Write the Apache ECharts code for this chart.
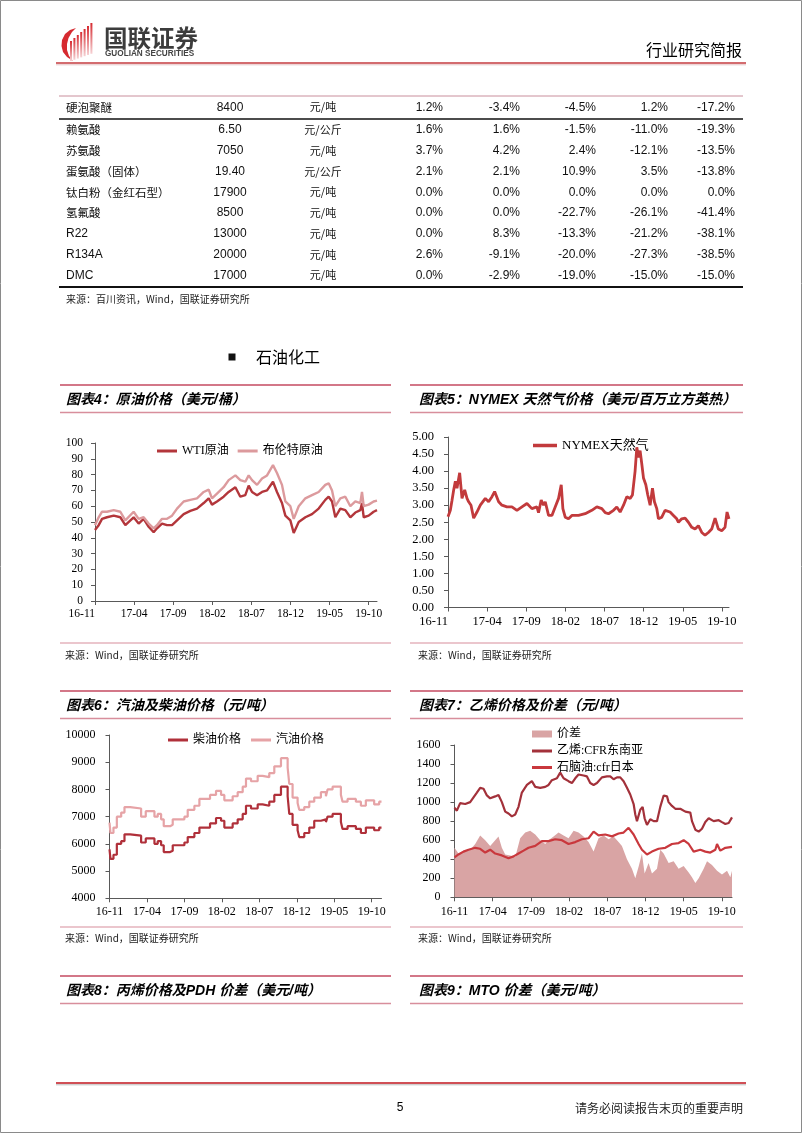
<!DOCTYPE html>
<html><head><meta charset="utf-8">
<script src="https://cdn.jsdelivr.net/npm/echarts@6/dist/echarts.min.js"></script>
<style>html,body{margin:0;padding:0;background:#fff}#c{width:802px;height:1133px}</style>
</head><body><div id="c"></div><script>
// ---------------- DATA ----------------
const xTickLabels = ['16-11','17-04','17-09','18-02','18-07','18-12','19-05','19-10'];

// table
const tableNames = ['硬泡聚醚','赖氨酸','苏氨酸','蛋氨酸（固体）','钛白粉（金红石型）','氢氟酸','R22','R134A','DMC'];
const tablePrices = ['8400','6.50','7050','19.40','17900','8500','13000','20000','17000'];
const tableUnits = ['元/吨','元/公斤','元/吨','元/公斤','元/吨','元/吨','元/吨','元/吨','元/吨'];
const chg1 = ['1.2%','1.6%','3.7%','2.1%','0.0%','0.0%','0.0%','2.6%','0.0%'];
const chg2 = ['-3.4%','1.6%','4.2%','2.1%','0.0%','0.0%','8.3%','-9.1%','-2.9%'];
const chg3 = ['-4.5%','-1.5%','2.4%','10.9%','0.0%','-22.7%','-13.3%','-20.0%','-19.0%'];
const chg4 = ['1.2%','-11.0%','-12.1%','3.5%','0.0%','-26.1%','-21.2%','-27.3%','-15.0%'];
const chg5 = ['-17.2%','-19.3%','-13.5%','-13.8%','0.0%','-41.4%','-38.1%','-38.5%','-15.0%'];

// chart 4: crude oil (months since 2016-11)
const oilMonths = [0,0.47,0.9,1.53,2.39,3.24,3.88,4.94,5.58,6.22,6.86,7.5,7.93,8.57,9.21,9.85,10.49,11.34,12.19,13.04,13.9,14.54,14.96,15.6,16.45,17.09,17.95,18.58,19.22,19.65,20.08,20.72,21.36,22.0,22.76,23.27,23.91,24.34,24.98,25.41,26.05,26.9,27.75,28.6,29.45,29.88,30.31,30.73,31.37,32.01,32.65,33.29,33.93,34.14,34.36,34.99,35.63,36.06];
const wti = [45,48,52,53,54,53,48,53,49,52,47,43.5,46,49,48,48,51,55,57,58.5,62,65,61,63,66,69,72,66,67,73,69,67,69,70,75.5,69,62,54,51,43,50,53,55,58.5,64,66,63,53,58.5,57.5,53,56,57.5,62,53,54,56.5,57.5];
const brent = [48,53,56.5,56.5,57.5,56.5,51,56.5,52,53,49,46,48,52,52,54,58.5,63,64,65,69,70.5,65,68,72,76.5,79.5,76.5,75.5,79.5,76.5,73.5,77.5,79.5,86,81,73.5,63,60,52,60,65,67,69,73.5,74.5,70,60,65,66,60,63,62,69,60,61,63,63.5];

// chart 5: NYMEX natural gas
const gasMonths = [0,0.3,0.51,0.72,0.94,1.15,1.49,1.79,2.13,2.43,2.64,2.94,3.28,3.7,4.13,4.77,5.19,5.62,5.96,6.47,6.89,7.53,8.17,8.81,9.45,10.09,10.72,11.36,11.57,11.91,12.21,12.43,12.85,13.28,13.7,14.13,14.47,14.68,14.98,15.4,15.83,16.68,17.53,18.38,19.02,19.66,20.09,20.51,21.15,21.57,22.0,22.43,22.85,23.28,23.57,23.91,24.13,24.34,24.55,24.77,24.98,25.28,25.53,25.83,26.13,26.38,26.68,26.89,27.32,27.74,28.38,28.81,29.23,29.45,29.87,30.3,30.72,31.15,31.57,32.0,32.43,32.85,33.28,33.7,34.13,34.55,34.98,35.4,35.66,35.91];
const natGas = [2.66,2.85,3.14,3.44,3.7,3.5,3.95,3.2,3.45,3.2,3.1,3.0,2.62,2.8,3.0,3.2,3.1,3.25,3.4,3.1,3.0,2.95,2.95,2.85,2.95,3.05,2.9,2.95,2.78,3.15,3.0,3.1,2.7,2.7,2.95,3.2,3.6,2.9,2.65,2.6,2.7,2.7,2.75,2.85,2.95,2.9,2.78,2.75,2.85,2.95,2.8,3.0,3.25,3.2,3.3,4.0,4.7,4.4,4.6,4.2,3.8,3.6,3.3,3.0,3.5,3.1,2.9,2.6,2.65,2.85,2.8,2.7,2.6,2.5,2.6,2.62,2.5,2.35,2.3,2.4,2.2,2.12,2.2,2.3,2.62,2.3,2.25,2.35,2.8,2.6];

// chart 6: diesel / gasoline (price adjustment dates, months since 2016-11)
const fuelMonths = [0,0.13,0.53,0.98,1.56,2.0,2.76,4.22,4.84,6.0,6.44,6.89,7.24,8.09,8.44,10.0,10.44,11.33,12.0,13.42,14.22,14.89,15.33,16.44,17.11,17.78,18.22,18.89,19.78,20.44,21.33,22.0,22.89,23.78,24.0,24.44,25.11,25.33,26.0,26.67,27.33,28.22,28.89,29.11,29.78,30.89,31.11,31.78,32.89,33.56,34.22,35.33,36.0,36.31];
const diesel = [5800,5450,5600,6000,6100,6350,6300,6050,6200,6000,6100,5950,5700,5750,5950,6050,6250,6400,6600,6750,6950,6850,6600,6750,6900,7100,7400,7300,7450,7400,7550,7800,8100,7750,7100,6700,6500,6250,6400,6600,6850,6900,6800,7000,7100,6800,6550,6650,6550,6400,6600,6500,6600,6600];
const gasoline = [6780,6400,6600,7000,7150,7350,7300,7000,7200,7000,7100,6900,6650,6700,6900,7000,7250,7400,7650,7800,7950,7800,7600,7750,7900,8100,8400,8300,8500,8450,8600,8850,9150,8800,8200,7700,7500,7250,7350,7550,7700,7900,7750,8000,8100,7800,7550,7650,7550,7400,7600,7450,7550,7550];

// chart 7: ethylene / naphtha / spread
const ethMonths = [0,0.31,0.74,1.4,2.05,2.49,2.93,3.36,3.8,4.24,4.67,5.33,5.76,6.2,6.64,7.07,7.51,7.95,8.38,8.82,9.48,10.13,10.57,11.22,11.88,12.31,12.75,13.41,13.84,14.28,14.93,15.37,15.81,16.24,16.9,17.34,17.77,18.21,18.65,19.3,19.96,20.39,20.83,21.27,21.7,22.14,22.58,23.01,23.45,23.67,23.89,24.32,24.63,24.89,25.2,25.63,26.07,26.51,26.94,27.38,27.82,28.03,28.47,28.91,29.56,30.22,30.87,31.09,31.53,31.97,32.4,32.84,33.28,33.93,34.59,35.02,35.46,35.9,36.33];
const ethylene = [940,910,990,980,1000,1050,1100,1150,1140,1070,1040,1060,1075,1000,900,880,850,870,950,1100,1180,1220,1160,1150,1160,1180,1230,1250,1310,1250,1220,1200,1250,1290,1280,1270,1200,1180,1200,1260,1270,1270,1240,1260,1260,1220,1150,1080,980,870,800,920,950,830,760,820,800,800,950,1070,1060,1000,960,930,930,900,890,800,710,690,720,790,830,800,810,790,770,780,840];
const napMonths = [0,0.52,1.18,1.83,2.71,3.36,4.02,4.67,5.33,6.2,7.07,7.73,8.38,9.04,9.69,10.57,11.44,12.31,13.19,14.06,14.93,15.81,16.68,17.55,18.21,18.86,19.74,20.61,21.48,22.14,22.79,23.45,24.1,24.54,25.2,25.85,26.72,27.6,28.47,29.34,30.0,30.66,31.31,32.18,32.84,33.49,34.15,34.37,34.8,35.46,36.33];
const naphtha = [420,450,480,500,520,510,470,500,460,440,410,430,460,490,520,540,590,590,610,600,560,580,610,620,690,650,660,640,670,680,730,660,560,500,450,480,510,520,560,570,600,560,480,500,480,470,500,560,490,520,530];
const sprMonths = [0,0.52,1.18,2.05,2.71,3.36,4.02,4.67,5.33,5.76,6.2,6.64,7.29,7.95,8.6,9.26,9.91,10.57,11.22,11.88,12.31,12.97,13.62,14.28,14.93,15.59,16.24,16.9,17.55,18.21,18.86,19.52,20.17,20.83,21.48,21.92,22.58,23.23,23.67,24.1,24.54,24.89,25.41,25.85,26.51,26.94,27.38,28.03,28.69,29.34,30.0,30.66,31.09,31.53,31.97,32.62,33.06,33.71,34.37,35.02,35.68,36.11,36.33];
const spread = [520,460,490,500,560,650,600,540,600,640,520,450,440,420,620,680,700,660,600,560,600,640,680,650,620,700,680,640,580,480,620,650,610,640,580,540,400,300,200,320,460,250,360,250,300,500,460,360,380,300,330,260,210,150,200,300,380,340,280,240,280,210,280];

// ---------------- STYLE ----------------
const CJK = "'Noto Sans CJK SC'";
const SANS = "'Liberation Sans', Arial, 'Noto Sans CJK SC'";
const SERIF = "'Liberation Serif', 'Times New Roman', 'Noto Sans CJK SC'";
const AX = '#595959';

const G = [];
function txt(x, y, s, font, opt) {
  G.push({type:'text', x:x, y:y, silent:true, z:10,
    style:Object.assign({text:s, font:font, fill:'#000', textAlign:'left', textVerticalAlign:'middle'}, opt || {})});
}
function hline(x1, x2, y, color, w) {
  G.push({type:'line', silent:true, z:5, shape:{x1:x1, y1:y, x2:x2, y2:y}, style:{stroke:color, lineWidth:w}});
}

// page frame
G.push({type:'rect', silent:true, shape:{x:0.5, y:0.5, width:801, height:1132}, style:{fill:'none', stroke:'#8a8a8a', lineWidth:1}});

// logo
G.push({type:'polygon', silent:true,
  shape:{points:[[76,28],[70,30],[65,34],[62,40],[61.5,46],[63,52],[67,57],[73,61],[69,56],[67,50],[67,44],[68.5,38],[72,32]]},
  style:{fill:'#D62A30'}});
for (let i = 0; i < 7; i++) {
  G.push({type:'rect', silent:true, shape:{x:70 + i * 3.4, y:41 - i * 3.0, width:2, height:20 + i * 1.8},
    style:{fill:{type:'linear', x:0, y:0, x2:0, y2:1, colorStops:[{offset:0, color:'#D62A30'}, {offset:1, color:'#F6D2D4'}]}}});
}
txt(104, 38.5, '国联证券', 'bold 23.5px ' + CJK, {fill:'#3c3c3c'});
txt(105, 53.5, 'GUOLIAN SECURITIES', 'bold 8.2px ' + SANS, {fill:'#444'});
txt(742, 50, '行业研究简报', '16px ' + CJK, {textAlign:'right'});
hline(56, 746, 63, '#C43B3F', 1.5);
hline(56, 746, 64.8, '#E6C4C6', 1);

// table
hline(59, 743, 96, '#C98E9C', 1);
hline(59, 743, 119, '#111', 1.5);
hline(59, 743, 287, '#111', 2);
const chgCols = [chg1, chg2, chg3, chg4, chg5];
const chgRight = [443, 520, 596, 668, 735];
for (let i = 0; i < tableNames.length; i++) {
  const y = i === 0 ? 107.3 : 130 + (i - 1) * 20.75;
  const isLatin = /^[A-Z0-9]/.test(tableNames[i]);
  txt(66, y, tableNames[i], isLatin ? '12px ' + SANS : '11.5px ' + CJK, {fill:'#111'});
  txt(230, y, tablePrices[i], '12px ' + SANS, {textAlign:'center', fill:'#111'});
  txt(323, y, tableUnits[i], '11px ' + CJK, {textAlign:'center', fill:'#111'});
  chgCols.forEach((col, c) => txt(chgRight[c], y, col[i], '12px ' + SANS, {textAlign:'right', fill:'#111'}));
}
txt(66, 299, '来源：百川资讯，Wind，国联证券研究所', '10px ' + CJK, {fill:'#222'});

// section heading
G.push({type:'rect', silent:true, shape:{x:228.5, y:353.5, width:7, height:7}, style:{fill:'#111'}});
txt(256, 357, '石油化工', '16px ' + CJK);

// chart title bars
const titles = [
  ['图表4：原油价格（美元/桶）', 0, 385],
  ['图表5：NYMEX 天然气价格（美元/百万立方英热）', 1, 385],
  ['图表6：汽油及柴油价格（元/吨）', 0, 691],
  ['图表7：乙烯价格及价差（元/吨）', 1, 691],
  ['图表8：丙烯价格及PDH 价差（美元/吨）', 0, 976],
  ['图表9：MTO 价差（美元/吨）', 1, 976]
];
titles.forEach(t => {
  const x1 = t[1] ? 410 : 60, x2 = t[1] ? 743 : 391;
  hline(x1, x2, t[2], '#C44A60', 1.5);
  hline(x1, x2, t[2] + 27.5, '#D88E9C', 1.5);
  txt(t[1] ? 419 : 66, t[2] + 15.5, t[0], 'italic bold 14px ' + SANS);
});
// source lines
[[643, 655], [927, 938]].forEach(s => {
  hline(60, 391, s[0], '#D88E9C', 1.2);
  hline(410, 743, s[0], '#D88E9C', 1.2);
  txt(65, s[1], '来源：Wind，国联证券研究所', '10px ' + CJK, {fill:'#222'});
  txt(418, s[1], '来源：Wind，国联证券研究所', '10px ' + CJK, {fill:'#222'});
});

// footer
hline(56, 746, 1083, '#C0141E', 1.5);
hline(56, 746, 1084.8, '#bdbdbd', 1);
txt(400, 1108, '5', '12px ' + SANS, {textAlign:'center'});
txt(743, 1108, '请务必阅读报告末页的重要声明', '12px ' + CJK, {textAlign:'right', fill:'#222'});

// ---------------- AXES ----------------
const tickMonths = xTickLabels.map((_, i) => i * 5);
function timeX(gi, maxM, fs, margin, alignMin) {
  const lab = {customValues:tickMonths, formatter:v => xTickLabels[Math.round(v / 5)] || '',
      color:'#000', fontFamily:SERIF, fontSize:fs, margin:margin};
  if (alignMin) lab.alignMinLabel = alignMin;
  return {type:'value', gridIndex:gi, min:0, max:maxM,
    axisLine:{show:true, onZero:false, lineStyle:{color:AX, width:1}},
    axisTick:{show:true, length:4, customValues:tickMonths, lineStyle:{color:AX}},
    axisLabel:lab,
    splitLine:{show:false}};
}
function valY(gi, min, max, interval, fs, margin, fmt) {
  const lab = {color:'#000', fontFamily:SERIF, fontSize:fs, margin:margin, formatter:fmt || (v => String(v))};
  return {type:'value', gridIndex:gi, min:min, max:max, interval:interval,
    axisLine:{show:true, lineStyle:{color:AX, width:1}},
    axisTick:{show:true, length:4, lineStyle:{color:AX}},
    axisLabel:lab,
    splitLine:{show:false}};
}
function lineSeries(name, gi, months, vals, color, width, extra) {
  return Object.assign({type:'line', name:name, xAxisIndex:gi, yAxisIndex:gi, symbol:'none', showSymbol:false,
    data:months.map((m, i) => [m, vals[i]]), lineStyle:{color:color, width:width}, itemStyle:{color:color}}, extra || {});
}
const legText = {color:'#000', fontFamily:SERIF, fontSize:12};

const option = {
  backgroundColor:'#fff',
  animation:false,
  graphic:{elements:G},
  grid:[
    {left:95, top:443, width:282, height:158},
    {left:448, top:437, width:281, height:170.5},
    {left:109.5, top:735, width:272, height:163.3},
    {left:454.5, top:745, width:277.5, height:152.3}
  ],
  xAxis:[
    timeX(0, oilMonths[oilMonths.length - 1], 11.5, 7, 'right'),
    timeX(1, gasMonths[gasMonths.length - 1], 12.5, 8, 'right'),
    timeX(2, fuelMonths[fuelMonths.length - 1], 12, 7.5),
    timeX(3, ethMonths[ethMonths.length - 1], 12, 8.5)
  ],
  yAxis:[
    valY(0, 0, 100, 10, 11.5, 12),
    valY(1, 0, 5, 0.5, 12.5, 14, v => v.toFixed(2)),
    valY(2, 4000, 10000, 1000, 12, 14),
    valY(3, 0, 1600, 200, 12, 14)
  ],
  legend:[
    {data:['WTI原油','布伦特原油'], left:157, top:445, itemWidth:20, itemHeight:3, icon:'rect', itemGap:9, selectedMode:false, textStyle:legText, padding:0},
    {data:['NYMEX天然气'], left:533, top:439, itemWidth:24, itemHeight:3.5, icon:'rect', selectedMode:false, textStyle:Object.assign({}, legText, {fontSize:13}), padding:0},
    {data:['柴油价格','汽油价格'], left:168, top:734, itemWidth:20, itemHeight:3, icon:'rect', itemGap:10, selectedMode:false, textStyle:legText, padding:0},
    {data:['价差'], left:532, top:728, itemWidth:20, itemHeight:7, icon:'rect', selectedMode:false, textStyle:legText, padding:0},
    {data:['乙烯:CFR东南亚','石脑油:cfr日本'], orient:'vertical', left:532, top:745, itemWidth:20, itemHeight:3, icon:'rect', itemGap:4.5, selectedMode:false, textStyle:legText, padding:0}
  ],
  series:[
    lineSeries('WTI原油', 0, oilMonths, wti, '#B3363B', 2.4),
    lineSeries('布伦特原油', 0, oilMonths, brent, '#DC9A9D', 2.4),
    lineSeries('NYMEX天然气', 1, gasMonths, natGas, '#C23A3C', 2.8),
    lineSeries('柴油价格', 2, fuelMonths, diesel, '#B0303A', 2.2, {step:'end'}),
    lineSeries('汽油价格', 2, fuelMonths, gasoline, '#E6A3A6', 2.2, {step:'end'}),
    lineSeries('价差', 3, sprMonths, spread, '#D9A4A4', 0, {areaStyle:{color:'#D9A4A4', opacity:1}, lineStyle:{width:0, color:'#D9A4A4'}}),
    lineSeries('乙烯:CFR东南亚', 3, ethMonths, ethylene, '#A3313A', 2.2),
    lineSeries('石脑油:cfr日本', 3, napMonths, naphtha, '#C9383D', 2.2)
  ]
};
const chart = echarts.init(document.getElementById('c'), null, {renderer:'canvas'});
chart.setOption(option);
</script></body></html>
